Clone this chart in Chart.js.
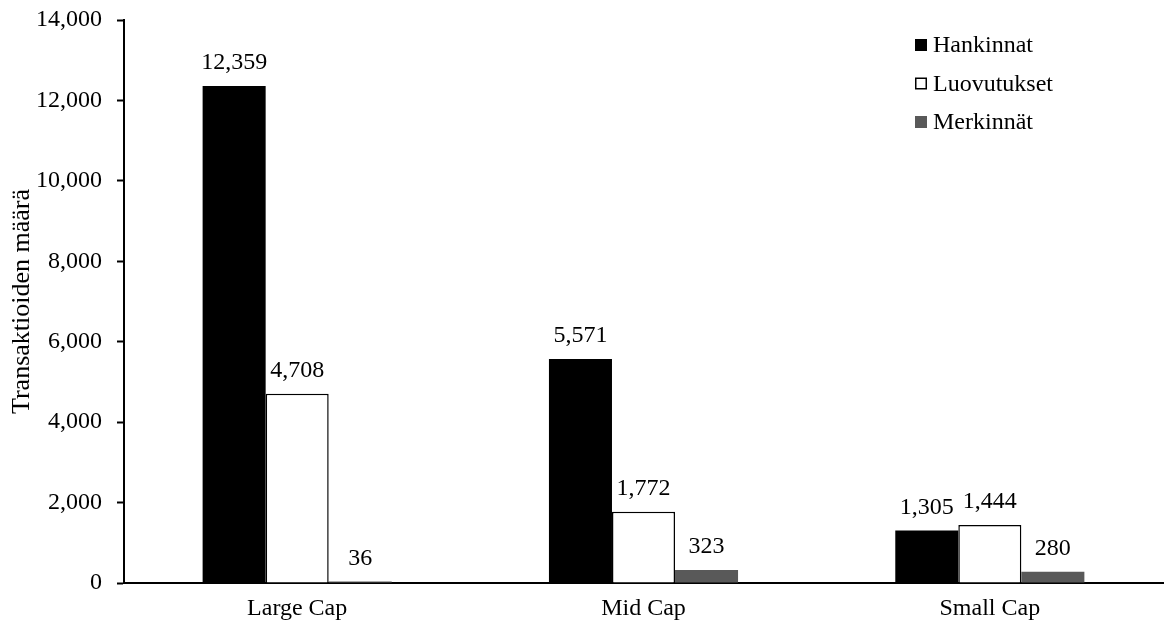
<!DOCTYPE html>
<html>
<head>
<meta charset="utf-8">
<script src="https://cdn.jsdelivr.net/npm/chart.js@4.4.0/dist/chart.umd.min.js"></script>
<style>
    html, body { margin: 0; padding: 0; background: #fff; }
    #wrap { width: 1165px; height: 628px; position: relative; }
</style>
</head>
<body>
<div id="wrap"><canvas id="chartTrans"></canvas></div>
<script>
let categories = ['Large Cap', 'Mid Cap', 'Small Cap'];
let seriesNames = ['Hankinnat', 'Luovutukset', 'Merkinnät'];
let hankinnat = [12359, 5571, 1305];
let luovutukset = [4708, 1772, 1444];
let merkinnat = [36, 323, 280];
let yTicks = [0, 2000, 4000, 6000, 8000, 10000, 12000, 14000];

const fontFam = '"Liberation Serif", "Times New Roman", serif';

let fmt = (v) => v.toLocaleString('en-US');

// value labels above the bars
let valueLabels = {
    id: 'valueLabels',
    afterDatasetsDraw(chart) {
        let ctx = chart.ctx;
        ctx.save();
        ctx.font = '24px ' + fontFam;
        ctx.fillStyle = '#000';
        ctx.textAlign = 'center';
        ctx.textBaseline = 'alphabetic';
        chart.data.datasets.forEach((ds, i) => {
            let meta = chart.getDatasetMeta(i);
            meta.data.forEach((bar, j) => {
                ctx.fillText(fmt(ds.data[j]), bar.x, bar.y - 17);
            });
        });
        ctx.restore();
    }
};

// legend drawn inside the plot area, top right
let innerLegend = {
    id: 'innerLegend',
    afterDraw(chart) {
        let ctx = chart.ctx;
        ctx.save();
        ctx.font = '24px ' + fontFam;
        ctx.textBaseline = 'middle';
        ctx.textAlign = 'left';
        let x = 915;
        let y0 = 45;
        chart.data.datasets.forEach((ds, i) => {
            let y = y0 + i * 38.5;
            ctx.fillStyle = ds.backgroundColor;
            ctx.fillRect(x, y - 6, 12, 12);
            if (ds.backgroundColor == '#ffffff') {
                ctx.strokeStyle = '#000';
                ctx.lineWidth = 1.5;
                ctx.strokeRect(x + 0.75, y - 5.25, 10.5, 10.5);
            }
            ctx.fillStyle = '#000';
            ctx.fillText(ds.label, x + 18, y + 1);
        });
        ctx.restore();
    }
};

let context = document.querySelector('#chartTrans').getContext('2d');

let config = {
    type: 'bar',
    data: {
        labels: categories,
        datasets: [{
            label: seriesNames[0],
            data: hankinnat,
            backgroundColor: '#000000',
            borderColor: '#000000',
            borderWidth: 0
        }, {
            label: seriesNames[1],
            data: luovutukset,
            backgroundColor: '#ffffff',
            borderColor: '#000000',
            borderWidth: 1.5
        }, {
            label: seriesNames[2],
            data: merkinnat,
            backgroundColor: '#595959',
            borderColor: '#595959',
            borderWidth: 0
        }]
    },
    options: {
        responsive: false,
        animation: false,
        devicePixelRatio: 1,
        layout: {
            padding: { top: 20, right: 2, left: 0, bottom: 0 }
        },
        categoryPercentage: 0.546,
        barPercentage: 1.0,
        plugins: {
            legend: { display: false },
            tooltip: { enabled: false }
        },
        scales: {
            x: {
                grid: { display: false, drawTicks: false },
                border: { display: true, color: '#000', width: 2 },
                ticks: {
                    color: '#000',
                    font: { family: fontFam, size: 24 },
                    padding: 11
                },
                afterFit: (scale) => { scale.height = 45; }
            },
            y: {
                min: 0,
                max: 14000,
                afterBuildTicks: (scale) => {
                    scale.ticks = yTicks.map(v => ({ value: v }));
                },
                grid: {
                    drawOnChartArea: false,
                    drawTicks: true,
                    tickLength: 7,
                    tickWidth: 2,
                    tickColor: '#000'
                },
                border: { display: true, color: '#000', width: 2 },
                ticks: {
                    color: '#000',
                    font: { family: fontFam, size: 24 },
                    padding: 15,
                    callback: (v) => fmt(v)
                },
                title: {
                    display: true,
                    text: 'Transaktioiden määrä',
                    color: '#000',
                    font: { family: fontFam, size: 26, weight: 'normal' },
                    padding: { top: 7, bottom: 0 }
                },
                afterFit: (scale) => {
                    scale.width = 124;
                    scale.paddingTop = 0;
                    scale.paddingBottom = 0;
                }
            }
        }
    },
    plugins: [valueLabels, innerLegend]
};

let canvas = document.getElementById('chartTrans');
canvas.width = 1165;
canvas.height = 628;
let chartTrans = new Chart(context, config);
</script>
</body>
</html>
